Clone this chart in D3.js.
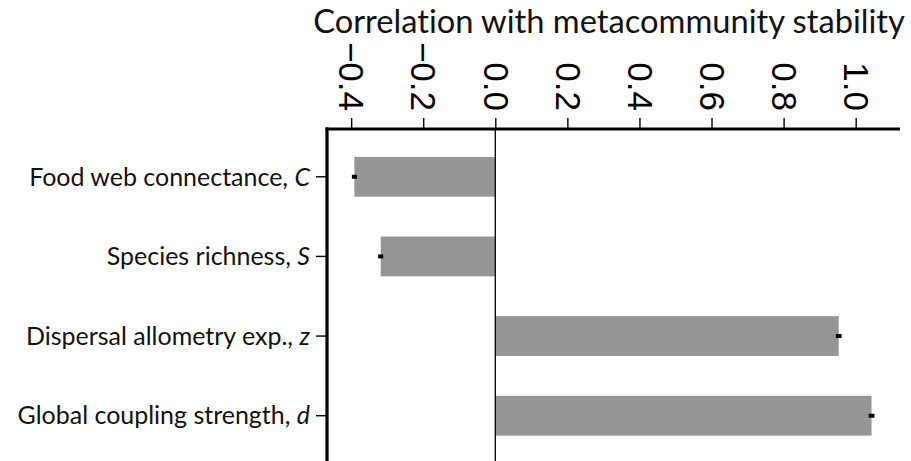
<!DOCTYPE html>
<html>
<head>
<meta charset="utf-8">
<script src="https://cdn.jsdelivr.net/npm/d3@7"></script>
<style>
  body { margin: 0; background: #fff; }
  svg { display: block; font-family: Lato, "Noto Sans", sans-serif; font-variant-ligatures: none; }
</style>
</head>
<body>
<svg id="chart" width="911" height="461"></svg>
<script>
// data
const factors = ['Food web connectance, ', 'Species richness, ', 'Dispersal allometry exp., ', 'Global coupling strength, ']
const symbols = ['C', 'S', 'z', 'd']
const correlations = [-0.391, -0.318, 0.953, 1.044]
const errors = [0.007, 0.007, 0.008, 0.008]
const xTicks = [-0.4, -0.2, 0.0, 0.2, 0.4, 0.6, 0.8, 1.0]
const title = 'Correlation with metacommunity stability'

const svg = d3.select('#chart')
const plotLeft = 327, plotRight = 900, plotTop = 129, plotBottom = 463.5

const x = d3.scaleLinear()
  .domain([-0.467, 1.123])
  .range([plotLeft, plotRight])

const y = d3.scaleBand()
  .domain(d3.range(factors.length))
  .range([plotTop, plotBottom])
  .paddingInner(0.5)
  .paddingOuter(0.35)

// bars
svg.append('g')
  .selectAll('rect')
  .data(correlations)
  .join('rect')
  .attr('x', d => x(Math.min(0, d)))
  .attr('width', d => Math.abs(x(d) - x(0)))
  .attr('y', (d, i) => y(i))
  .attr('height', y.bandwidth())
  .attr('fill', '#969696')

// tiny error bars
svg.append('g')
  .selectAll('line')
  .data(correlations)
  .join('line')
  .attr('x1', (d, i) => x(d - errors[i]))
  .attr('x2', (d, i) => x(d + errors[i]))
  .attr('y1', (d, i) => y(i) + y.bandwidth() / 2)
  .attr('y2', (d, i) => y(i) + y.bandwidth() / 2)
  .attr('stroke', '#000')
  .attr('stroke-width', 4)

// zero line
svg.append('line')
  .attr('x1', x(0)).attr('x2', x(0))
  .attr('y1', plotTop).attr('y2', 461)
  .attr('stroke', '#000')
  .attr('stroke-width', 1.3)

// top axis
const fmt = d => d3.format('.1f')(d).replace('-', '\u2212')
const xAxis = svg.append('g')
  .attr('transform', `translate(0,${plotTop})`)
  .call(d3.axisTop(x).tickValues(xTicks).tickFormat(fmt).tickSize(11).tickSizeOuter(0))
xAxis.select('.domain').attr('stroke-width', 3.2)
  .attr('d', `M${plotLeft - 1.5},0H${plotRight}`)
xAxis.selectAll('.tick line').attr('stroke-width', 1.4)
xAxis.selectAll('.tick text')
  .attr('font-family', 'inherit')
  .attr('font-size', 35)
  .attr('fill', '#000')
  .attr('transform', 'rotate(90)')
  .attr('text-anchor', 'end')
  .attr('x', -18)
  .attr('y', 0)
  .attr('dy', '0.35em')

// left axis
const yAxis = svg.append('g')
  .attr('transform', `translate(${plotLeft},0)`)
  .call(d3.axisLeft(y).tickSize(11).tickSizeOuter(0).tickFormat(''))
yAxis.select('.domain').attr('stroke-width', 3.2)
  .attr('d', `M0,${plotTop - 1.5}V461`)
yAxis.selectAll('.tick line').attr('stroke-width', 1.4)

const labels = svg.append('g')
  .attr('font-size', 22)
  .attr('text-anchor', 'end')
  .selectAll('text')
  .data(factors)
  .join('text')
  .attr('x', plotLeft - 17)
  .attr('y', (d, i) => y(i) + y.bandwidth() / 2)
  .attr('dy', '0.35em')
  .attr('fill', '#111')
labels.append('tspan').text(d => d)
labels.append('tspan').attr('font-style', 'italic').text((d, i) => symbols[i])

// fit label size to the reference width of the first label
const w0 = labels.node().getComputedTextLength()
labels.attr('font-size', 22 * 281 / w0)

const t = svg.append('text')
  .attr('x', 609)
  .attr('y', 33)
  .attr('text-anchor', 'middle')
  .attr('font-size', 28)
  .attr('fill', '#111')
  .text(title)
const tw = t.node().getComputedTextLength()
t.attr('font-size', 28 * 592 / tw)
</script>
</body>
</html>
